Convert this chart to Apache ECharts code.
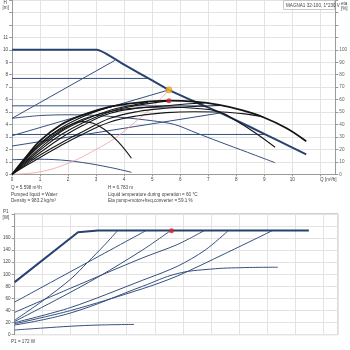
<!DOCTYPE html>
<html><head><meta charset="utf-8">
<script src="https://cdn.jsdelivr.net/npm/echarts@6/dist/echarts.min.js"></script>
<style>html,body{margin:0;padding:0;background:#fff}#c{width:350px;height:350px}</style>
</head><body><div id="c"></div>
<script>
// ---- operating point ----
const dutyQ = 5.598, dutyH = 6.783, dutyEta = 59.1, dutyP = 172;

// ---- head curves H [m] vs Q [m3/h] ----
const hMax = [[0,10],[3.03,10],[4,8.8],[5,7.55],[5.6,6.78],[6.5,5.85],[7.4,4.98],[8.5,3.8],[9.5,2.7],[10.5,1.6]];
const hPP3 = [[0,4.5],[3.67,9.15]];
const hCP3 = [[0,7.7],[4.85,7.7]];
const hPP2 = [[0,3.1],[5.6,6.78]];
const hCP2 = [[0,5.5],[6.86,5.5]];
const hPP1 = [[0,2.27],[7.45,4.93]];
const hCP1 = [[0,3.2],[9.05,3.2]];
const hII  = [[0,4.5],[1,4.72],[2,4.78],[3,4.73],[4,4.55],[5,4.3],[5.8,4.0],[6.6,3.3],[7.39,2.62],[8.4,1.77],[9.39,0.93]];
const hI   = [[0,1.17],[0.8,1.21],[1.5,1.18],[2.5,0.95],[3.5,0.55],[4.26,0.16]];
const hSystem = [[0,0],[1,0.2],[2,0.88],[3,2.0],[3.7,2.95],[4.5,4.4],[5.1,5.6],[5.598,6.783]];

// ---- efficiency curves eta [%] ----
const etaMax = [[0,0],[0.5,14],[1,27],[1.73,39.6],[2.5,47.5],[3.5,54.3],[4.5,57.6],[5.6,59.1],[6.5,58.3],[7.39,55.7],[8.2,51.5],[8.97,45.8],[9.8,37],[10.5,26.5]];
const etaPP3 = [[0,0],[0.5,13],[1,25],[1.73,37],[2.5,46],[3.2,52],[3.67,55]];
const etaCP3 = [[0,0],[0.5,11],[1,21],[1.73,34],[2.5,43],[3.5,51.5],[4.2,55],[4.85,57.8]];
const etaPP2 = [[0,0],[0.5,10],[1,19.5],[1.73,31.5],[2.5,41],[3.5,50.3],[4.5,55.5],[5.6,59]];
const etaCP2 = [[0,0],[0.5,9],[1,17.5],[1.73,29],[2.5,39],[3.5,49],[4.5,53],[5.5,55],[6.2,56.5],[6.86,57.3]];
const etaPP1 = [[0,0],[0.5,8],[1,15.5],[1.73,25],[2.5,34],[3.5,45],[4.5,50.5],[5.5,53],[6.5,54.5],[7.45,55.3]];
const etaCP1 = [[0,0],[0.5,7],[1,13.5],[1.73,23],[2.5,32],[3.5,42],[4.5,47],[5.5,49.5],[6.5,50.3],[7.5,50],[8.3,48.5],[8.97,46]];
const etaII  = [[0,0],[0.5,12],[1,23],[1.73,35],[2.5,44],[3.5,50.5],[4.5,53.5],[5.5,54],[6.5,53],[7.39,50.3],[8,43],[8.7,33],[9.39,21.7]];
const etaI   = [[0,0],[0.5,13],[1,24],[1.5,33],[2,39],[2.5,42.3],[2.9,41],[3.3,36],[3.79,26],[4.26,12.9]];

// ---- power curves P1 [W] ----
const pMax = [[0,87],[2.26,169.5],[2.97,172.5],[10.5,172.5]];
const pPP3 = [[0,24],[1,56],[2,92],[2.61,120],[3.2,148],[3.67,172]];
const pCP3 = [[0,54],[4.68,172]];
const pPP2 = [[0,22],[1.5,58],[3,96],[4.56,140],[5.56,172]];
const pCP2 = [[0,37],[2,77],[4.56,127],[5.8,149],[6.76,172]];
const pPP1 = [[0,20],[2,45],[4.56,90],[5.8,113],[6.8,140],[7.62,172]];
const pCP1 = [[0,18],[2,40],[4.56,76],[5.8,97],[7.5,134],[9.19,172]];
const pII  = [[0,16],[2,36],[4.56,80],[5.8,101],[7,108.5],[8.2,111],[9.39,111.6]];
const pI   = [[0,7.8],[1,11],[2,14],[3,16],[4.26,17]];

// ---- labels ----
const headLabels = [0,1,2,3,4,5,6,7,8,9,10,11];
const etaLabels = [0,10,20,30,40,50,60,70,80,90,100];
const powerLabels = [0,20,40,60,80,100,120,140,160];
const xMaxVal = 11.54;
const FONT = 'Liberation Sans, Arial, sans-serif';
const BLUE = '#34507f', BLUE_T = '#27426f', BLACK = '#151515', GRID = '#e3e3e3', AX = '#9a9a9a';

function line(data, xi, yi, color, w, smooth, z) {
  return {type:'line', data, xAxisIndex:xi, yAxisIndex:yi, showSymbol:false, symbol:'none',
    smooth: smooth || false, lineStyle:{color, width:w}, silent:true, z: z||2, animation:false};
}

const series = [];
// head (blue)
[hPP3,hCP3,hPP2,hCP2,hPP1,hCP1].forEach(d=>series.push(line(d,0,0,BLUE,1,false,3)));
series.push(line(hII,0,0,BLUE,1,0.3,3));
series.push(line(hI,0,0,BLUE,1,0.4,3));
series.push(line(hMax,0,0,BLUE_T,2,0.15,4));
series.push(line(hSystem,0,0,'#f0a0a0',0.8,0.4,3));
// eta (black)
[etaPP3,etaCP3,etaPP2,etaCP2,etaPP1,etaCP1,etaII,etaI].forEach(d=>series.push(line(d,0,1,BLACK,1.1,0.4,5)));
series.push(line(etaMax,0,1,BLACK,1.8,0.4,6));
// power (blue)
[pPP3,pCP3,pPP2,pCP2,pPP1,pCP1].forEach(d=>series.push(line(d,1,2,BLUE,1,0.3,3)));
series.push(line(pII,1,2,BLUE,1,0.4,3));
series.push(line(pI,1,2,BLUE,1,0.4,3));
series.push(line(pMax,1,2,BLUE_T,2,false,4));
// markers
series.push({type:'scatter',xAxisIndex:0,yAxisIndex:0,data:[[dutyQ,dutyH]],symbolSize:6,
  itemStyle:{color:'#f7b52a',borderColor:'#d98a00',borderWidth:0.8},z:10,silent:true,animation:false});
series.push({type:'scatter',xAxisIndex:0,yAxisIndex:1,data:[[dutyQ,dutyEta]],symbolSize:5,
  itemStyle:{color:'#d8232e'},z:10,silent:true,animation:false});
series.push({type:'scatter',xAxisIndex:1,yAxisIndex:2,data:[[dutyQ,dutyP]],symbolSize:5,
  itemStyle:{color:'#d8232e'},z:10,silent:true,animation:false});

const lblStyle = {fontSize:4.6, color:'#444', fontFamily:FONT};
const option = {
  animation:false,
  backgroundColor:'#fff',
  grid:[
    {left:11, right:12, top:0, height:174.3},
    {left:11, right:12, top:213.8, height:120.9, show:true, borderColor:'#bdbdbd', borderWidth:1, backgroundColor:'transparent'}
  ],
  xAxis:[
    {type:'value', gridIndex:0, min:0, max:xMaxVal, interval:1,
     axisLine:{show:true, lineStyle:{color:AX, width:1}},
     axisTick:{show:true, length:2, lineStyle:{color:AX}},
     axisLabel:Object.assign({margin:3, showMaxLabel:false, formatter:v=> v<=10 ? String(v) : ''}, lblStyle),
     splitLine:{show:true, lineStyle:{color:GRID, width:1}}},
    {type:'value', gridIndex:1, min:0, max:xMaxVal, interval:1,
     axisLine:{show:false}, axisTick:{show:false}, axisLabel:{show:false},
     splitLine:{show:true, lineStyle:{color:GRID, width:1}}}
  ],
  yAxis:[
    {type:'value', gridIndex:0, min:0, max:14, interval:1, position:'left',
     axisLine:{show:true, lineStyle:{color:AX}},
     axisTick:{show:true, length:3, lineStyle:{color:AX}},
     axisLabel:Object.assign({margin:4, formatter:v=> headLabels.includes(v) ? String(v) : ''}, lblStyle),
     splitLine:{show:true, lineStyle:{color:GRID, width:1}}},
    {type:'value', gridIndex:0, min:0, max:140, interval:10, position:'right',
     axisLine:{show:true, lineStyle:{color:AX}},
     axisTick:{show:true, length:3, lineStyle:{color:AX}},
     axisLabel:Object.assign({}, lblStyle, {margin:4, color:'#4f6b4f', formatter:v=> etaLabels.includes(v) ? String(v) : ''}),
     splitLine:{show:false}},
    {type:'value', gridIndex:1, min:0, max:200, interval:20, position:'left',
     axisLine:{show:true, lineStyle:{color:AX}},
     axisTick:{show:true, length:3, lineStyle:{color:AX}},
     axisLabel:Object.assign({margin:4, formatter:v=> powerLabels.includes(v) ? String(v) : ''}, lblStyle),
     splitLine:{show:true, lineStyle:{color:GRID, width:1}}}
  ],
  graphic:[
    {type:'text', left:3.5, top:0, style:{text:'H', fontSize:4.6, fill:'#444', fontFamily:FONT}},
    {type:'text', left:2.5, top:5.5, style:{text:'[m]', fontSize:4.6, fill:'#444', fontFamily:FONT}},
    {type:'text', left:341, top:1, style:{text:'eta', fontSize:4.6, fill:'#444', fontFamily:FONT}},
    {type:'text', left:341, top:6, style:{text:'[%]', fontSize:4.6, fill:'#444', fontFamily:FONT}},
    {type:'text', left:320, top:177, style:{text:'Q [m³/h]', fontSize:4.6, fill:'#444', fontFamily:FONT}},
    {type:'rect', shape:{x:283.5, y:0.5, width:51, height:9}, style:{fill:'#fff', stroke:'#bbb', lineWidth:0.8}, z:20},
    {type:'text', left:286, top:2.8, z:21, style:{text:'MAGNA1 32-100, 1*230 V', fontSize:4.6, fill:'#444', fontFamily:FONT}},
    {type:'text', left:11, top:185, style:{text:'Q = 5.598 m³/h', fontSize:4.6, fill:'#444', fontFamily:FONT}},
    {type:'text', left:11, top:192, style:{text:'Pumped liquid = Water', fontSize:4.6, fill:'#444', fontFamily:FONT}},
    {type:'text', left:11, top:198.5, style:{text:'Density = 983.2 kg/m³', fontSize:4.6, fill:'#444', fontFamily:FONT}},
    {type:'text', left:108, top:185, style:{text:'H = 6.783 m', fontSize:4.6, fill:'#444', fontFamily:FONT}},
    {type:'text', left:108, top:192, style:{text:'Liquid temperature during operation = 60 °C', fontSize:4.6, fill:'#444', fontFamily:FONT}},
    {type:'text', left:108, top:198.5, style:{text:'Eta pump+motor+freq.converter = 59.1 %', fontSize:4.6, fill:'#444', fontFamily:FONT}},
    {type:'text', left:3, top:209.5, style:{text:'P1', fontSize:4.6, fill:'#444', fontFamily:FONT}},
    {type:'text', left:2.5, top:215, style:{text:'[W]', fontSize:4.6, fill:'#444', fontFamily:FONT}},
    {type:'text', left:11, top:339.5, style:{text:'P1 = 172 W', fontSize:4.6, fill:'#444', fontFamily:FONT}}
  ],
  series
};
const chart = echarts.init(document.getElementById('c'), null, {renderer:'canvas'});
chart.setOption(option);
</script>
</body></html>
